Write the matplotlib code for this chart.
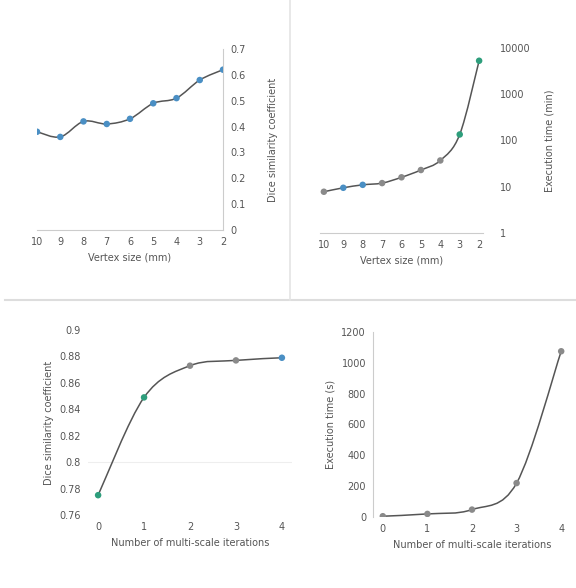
import numpy as np
import matplotlib.pyplot as plt
from matplotlib.lines import Line2D
from matplotlib.path import Path
from matplotlib.patches import PathPatch

# data
vertex_size = [10, 9, 8, 7, 6, 5, 4, 3, 2]
dice_vertex = [0.38, 0.36, 0.42, 0.41, 0.43, 0.49, 0.51, 0.58, 0.62]
time_vertex = [7.8, 9.5, 11, 12, 16, 23, 37, 135, 5300]

iterations = [0, 1, 2, 3, 4]
dice_iter = [0.775, 0.849, 0.873, 0.877, 0.879]
time_iter = [5, 20, 48, 220, 1075]

blue = '#4a8fc4'
green = '#2e9e7c'
grey = '#8a8a8a'
col_tl = [blue] * 9
col_tr = [grey, blue, blue, grey, grey, grey, grey, green, green]
col_bl = [green, green, grey, grey, blue]
col_br = [grey] * 5

txt = '#555555'
plt.rcParams['font.size'] = 7
plt.rcParams['text.color'] = txt
plt.rcParams['axes.labelcolor'] = txt
plt.rcParams['xtick.color'] = txt
plt.rcParams['ytick.color'] = txt

W, H = 576, 588
fig = plt.figure(figsize=(W / 100, H / 100), dpi=100)


def box(x0, x1, ytop, ybot):
    return [x0 / W, 1 - ybot / H, (x1 - x0) / W, (ybot - ytop) / H]


def smooth_path(x, y, logy=False):
    # smoothed line through the data points (bezier segments, like a spreadsheet chart)
    x = np.asarray(x, float)
    y = np.log10(y) if logy else np.asarray(y, float)
    px = np.concatenate([[x[0]], x, [x[-1]]])
    py = np.concatenate([[y[0]], y, [y[-1]]])
    verts = [(x[0], y[0])]
    codes = [Path.MOVETO]
    for i in range(1, len(px) - 2):
        c1 = (px[i] + (px[i + 1] - px[i - 1]) / 6, py[i] + (py[i + 1] - py[i - 1]) / 6)
        c2 = (px[i + 1] - (px[i + 2] - px[i]) / 6, py[i + 1] - (py[i + 2] - py[i]) / 6)
        verts += [c1, c2, (px[i + 1], py[i + 1])]
        codes += [Path.CURVE4] * 3
    verts = np.array(verts)
    if logy:
        verts[:, 1] = 10 ** verts[:, 1]
    return Path(verts, codes)


def draw(ax, x, y, cols, logy=False):
    ax.add_patch(PathPatch(smooth_path(x, y, logy), fill=False,
                           edgecolor='#555555', lw=1.1, zorder=2))
    ax.scatter(x, y, c=cols, s=22, edgecolors='none', zorder=3)
    for s in ax.spines.values():
        s.set_color('#cccccc')
    ax.tick_params(length=0, pad=5)


# top left
ax1 = fig.add_axes(box(37, 223, 49, 230))
draw(ax1, vertex_size, dice_vertex, col_tl)
ax1.set_xlim(10, 2)
ax1.set_ylim(0, 0.7)
ax1.set_xticks(vertex_size)
ax1.set_yticks([0, 0.1, 0.2, 0.3, 0.4, 0.5, 0.6, 0.7])
ax1.set_yticklabels(['0', '0.1', '0.2', '0.3', '0.4', '0.5', '0.6', '0.7'])
ax1.yaxis.tick_right()
ax1.yaxis.set_label_position('right')
ax1.spines['top'].set_visible(False)
ax1.spines['left'].set_visible(False)
ax1.set_xlabel('Vertex size (mm)')
ax1.set_ylabel('Dice similarity coefficient', labelpad=16)

# top right
ax2 = fig.add_axes(box(320, 483, 48, 233))
ax2.set_yscale('log')
draw(ax2, vertex_size, time_vertex, col_tr, logy=True)
ax2.set_xlim(10.2, 1.8)
ax2.set_ylim(1, 10000)
ax2.set_xticks(vertex_size)
ax2.set_yticks([1, 10, 100, 1000, 10000])
ax2.set_yticklabels(['1', '10', '100', '1000', '10000'])
ax2.minorticks_off()
ax2.yaxis.tick_right()
ax2.yaxis.set_label_position('right')
for s in ['top', 'left', 'right']:
    ax2.spines[s].set_visible(False)
ax2.tick_params(axis='y', pad=12)
ax2.set_xlabel('Vertex size (mm)')
ax2.set_ylabel('Execution time (min)', labelpad=10)

# bottom left
ax3 = fig.add_axes(box(88, 292, 330, 515))
draw(ax3, iterations, dice_iter, col_bl)
ax3.set_xlim(-0.22, 4.22)
ax3.set_ylim(0.76, 0.9)
ax3.set_xticks(iterations)
ax3.set_yticks([0.76, 0.78, 0.8, 0.82, 0.84, 0.86, 0.88, 0.9])
ax3.set_yticklabels(['0.76', '0.78', '0.8', '0.82', '0.84', '0.86', '0.88', '0.9'])
ax3.axhline(0.8, color='#eeeeee', lw=0.8, zorder=1)
for s in ['top', 'right', 'left', 'bottom']:
    ax3.spines[s].set_visible(False)
ax3.set_xlabel('Number of multi-scale iterations')
ax3.set_ylabel('Dice similarity coefficient')

# bottom right
ax4 = fig.add_axes(box(373, 571, 332, 517))
draw(ax4, iterations, time_iter, col_br)
ax4.set_xlim(-0.22, 4.22)
ax4.set_ylim(0, 1200)
ax4.set_xticks(iterations)
ax4.set_yticks([0, 200, 400, 600, 800, 1000, 1200])
for s in ['top', 'right', 'bottom']:
    ax4.spines[s].set_visible(False)
ax4.set_xlabel('Number of multi-scale iterations')
ax4.set_ylabel('Execution time (s)')

# panel separators
fig.add_artist(Line2D([5 / W, 1], [1 - 300 / H, 1 - 300 / H], color='#dddddd', lw=1.5))
fig.add_artist(Line2D([290 / W, 290 / W], [1 - 300 / H, 1], color='#e4e4e4', lw=1.2))

fig.savefig('out.png', dpi=100)
